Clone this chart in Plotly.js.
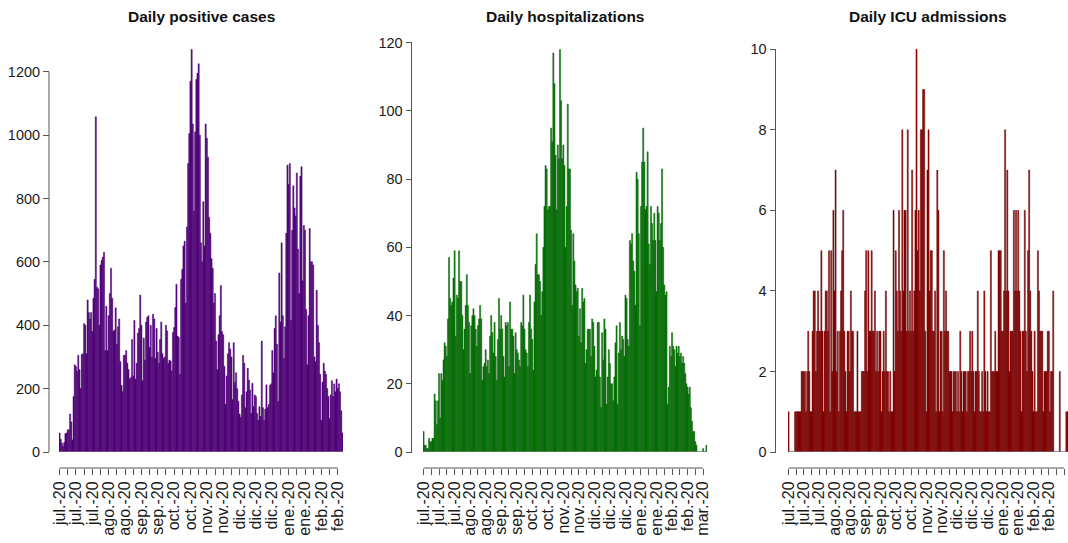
<!DOCTYPE html>
<html>
<head>
<meta charset="utf-8">
<script src="https://cdn.plot.ly/plotly-3.0.1.min.js"></script>
<style>
  html, body { margin: 0; padding: 0; background: #ffffff; }
  #chart { width: 1068px; height: 543px; }
</style>
</head>
<body>
<div id="chart"></div>
<script>
// ---------------- DATA ----------------
const startDate = [2020, 6, 1]; // 1 July 2020 (month is 0-based)

// Daily positive cases, 1 Jul 2020 .. 28 Feb 2021
const cases = [
  60, 40, 28, 18, 30, 58, 60, 70, 70, 120, 95, 38, 175, 275, 270, 255, 305, 260, 200, 308, 310, 405, 400, 310, 480, 440, 420, 440, 380, 485, 545,
  1058, 520, 515, 400, 590, 605, 615, 630, 320, 460, 320, 430, 500, 580, 485, 380, 385, 455, 340, 395, 420, 285, 210, 190, 305, 305, 320, 280, 260, 230, 235,
  355, 240, 415, 230, 280, 375, 390, 495, 400, 225, 360, 290, 410, 425, 430, 330, 400, 300, 435, 420, 295, 390, 315, 280, 355, 410, 310, 295, 300, 400,
  382, 280, 290, 287, 256, 377, 393, 456, 529, 366, 361, 245, 545, 577, 650, 665, 470, 710, 910, 1005, 1170, 1270, 1035, 760, 1010, 1175, 1195, 1225, 1000, 660, 600,
  790, 650, 1035, 990, 930, 740, 690, 610, 580, 470, 500, 350, 260, 370, 430, 525, 380, 370, 270, 150, 240, 310, 345, 325, 300, 165, 345, 220, 250, 200,
  160, 120, 110, 180, 305, 280, 140, 190, 264, 227, 196, 122, 217, 143, 180, 175, 122, 100, 143, 112, 350, 140, 100, 135, 212, 140, 150, 210, 215, 320, 250,
  390, 430, 340, 160, 565, 410, 660, 430, 295, 395, 690, 905, 845, 910, 415, 700, 840, 770, 745, 880, 640, 500, 870, 900, 540, 715, 700, 450, 275, 430, 705,
  600, 600, 590, 300, 285, 510, 400, 345, 245, 100, 220, 280, 255, 245, 200, 175, 105, 180, 225, 175, 215, 190, 230, 200, 215, 190, 130, 60
];

// Daily hospitalizations, 1 Jul 2020 .. 13 Mar 2021
const hosp = [
  6, 2, 2, 1, 1, 4, 3, 3, 4, 4, 17, 15, 8, 15, 23, 10, 23, 21, 27, 32, 31, 28, 39, 57, 45, 43, 44, 51, 59, 34, 46,
  45, 59, 50, 50, 40, 30, 36, 43, 52, 43, 38, 23, 37, 40, 42, 40, 36, 31, 37, 39, 43, 39, 21, 25, 26, 30, 25, 27, 23, 34, 40,
  35, 29, 38, 28, 21, 33, 45, 36, 40, 36, 28, 22, 38, 37, 38, 25, 44, 36, 36, 34, 23, 35, 30, 29, 27, 25, 38, 37, 46, 36,
  30, 29, 25, 38, 46, 36, 33, 24, 44, 55, 64, 52, 52, 50, 40, 47, 60, 72, 84, 83, 71, 72, 72, 95, 91, 117, 108, 87, 71, 90, 86,
  118, 103, 86, 90, 84, 60, 72, 102, 83, 83, 65, 43, 64, 56, 49, 47, 48, 34, 42, 32, 48, 44, 45, 26, 30, 36, 36, 36, 28, 39,
  38, 31, 22, 24, 38, 38, 22, 13, 35, 27, 39, 36, 14, 22, 30, 26, 20, 20, 15, 22, 32, 37, 14, 29, 38, 30, 34, 33, 28, 46, 45,
  33, 31, 62, 61, 64, 56, 53, 43, 82, 80, 64, 37, 72, 85, 95, 85, 71, 72, 88, 61, 55, 72, 67, 62, 70, 62, 47, 72, 70, 62, 67,
  83, 60, 49, 46, 47, 14, 19, 31, 28, 35, 31, 30, 25, 31, 29, 31, 28, 29, 26, 28, 26, 23, 20, 19, 17, 19, 13, 9,
  6, 6, 3, 2, 0, 0, 0, 0, 0, 1, 0, 0, 2
];

// Daily ICU admissions, 1 Jul 2020 .. 13 Mar 2021
const icu = [
  1, 0, 0, 0, 0, 0, 1, 1, 1, 1, 1, 1, 2, 2, 2, 2, 1, 2, 3, 2, 1, 1, 3, 4, 4, 2, 3, 4, 3, 3, 5,
  3, 1, 3, 4, 4, 3, 5, 1, 5, 2, 6, 4, 7, 2, 3, 1, 3, 4, 5, 6, 3, 2, 1, 3, 3, 2, 4, 3, 3, 1, 1,
  1, 3, 1, 1, 1, 2, 2, 2, 4, 5, 2, 5, 3, 3, 5, 3, 3, 4, 2, 3, 2, 3, 3, 1, 2, 3, 2, 4, 2, 2,
  1, 2, 1, 1, 6, 2, 5, 4, 3, 6, 4, 3, 8, 4, 6, 6, 3, 8, 3, 4, 3, 7, 3, 4, 6, 10, 5, 6, 4, 8, 8,
  9, 9, 3, 1, 7, 8, 4, 5, 5, 3, 3, 4, 1, 7, 6, 1, 3, 3, 1, 5, 3, 4, 3, 3, 2, 2, 2, 1, 2, 2,
  2, 1, 2, 1, 3, 2, 1, 2, 2, 2, 1, 2, 2, 3, 2, 3, 2, 1, 2, 2, 4, 2, 1, 1, 2, 1, 4, 2, 1, 2, 1,
  1, 5, 2, 2, 2, 3, 2, 2, 5, 5, 5, 3, 3, 4, 8, 4, 7, 4, 2, 3, 3, 3, 6, 4, 6, 4, 6, 4, 3, 1, 3,
  3, 6, 3, 2, 5, 7, 4, 3, 2, 1, 3, 1, 1, 5, 4, 3, 3, 3, 1, 2, 2, 2, 3, 3, 1, 2, 2, 4,
  0, 0, 0, 0, 0, 2, 0, 0, 0, 0, 0, 1, 1
];

// Weekly tick labels (every other tick labelled, as in the original)
const tickLabelsCases = ["jul.-20","","jul.-20","","jul.-20","","ago.-20","","ago.-20","","sep.-20","","sep.-20","",
  "oct.-20","","oct.-20","","nov.-20","","nov.-20","","dic.-20","","dic.-20","","dic.-20","","ene.-20","","ene.-20","",
  "feb.-20","","feb.-20"];
const tickLabelsLong = tickLabelsCases.concat(["", "mar.-20"]);

const yTicksCases = [0, 200, 400, 600, 800, 1000, 1200];
const yTicksHosp = [0, 20, 40, 60, 80, 100, 120];
const yTicksIcu = [0, 2, 4, 6, 8, 10];

const titles = ["Daily positive cases", "Daily hospitalizations", "Daily ICU admissions"];

// ---------------- HELPERS ----------------
function isoDay(offset) {
  const d = new Date(Date.UTC(startDate[0], startDate[1], startDate[2] + offset));
  return d.toISOString().slice(0, 10);
}
function dayList(n, step) {
  const out = [];
  for (let i = 0; i < n; i++) out.push(isoDay(i * step));
  return out;
}

const W = 1068, H = 543;
const px = v => v / W;
const py = v => 1 - v / H;

const FONT = "Liberation Sans, Arial, Helvetica, sans-serif";
const AX = "#555555";
const baseY = 452, topY = 40, xAxisY = 468;

const panels = [
  { data: cases, labels: tickLabelsCases, yTicks: yTicksCases, yMax: 1300, x0: 59, x1: 343, yAxisX: 49,
    fill: "#6a00a4", line: "#34004a" },
  { data: hosp, labels: tickLabelsLong, yTicks: yTicksHosp, yMax: 120.8, x0: 423, x1: 707, yAxisX: 411.5,
    fill: "#009a00", line: "#064006" },
  { data: icu, labels: tickLabelsLong, yTicks: yTicksIcu, yMax: 10.23, x0: 788, x1: 1068, yAxisX: 775.5,
    fill: "#b80000", line: "#480000" }
];

const traces = [];
const layout = {
  width: W, height: H,
  margin: { l: 0, r: 0, t: 0, b: 0 },
  paper_bgcolor: "#ffffff", plot_bgcolor: "#ffffff",
  showlegend: false, bargap: 0,
  font: { family: FONT, size: 14, color: "#1a1a1a" },
  shapes: [], annotations: []
};

panels.forEach((p, i) => {
  const n = p.data.length;
  const xs = dayList(n, 1);
  const tickvals = dayList(p.labels.length, 7);
  const xn = i === 0 ? "" : String(i + 1);
  const xKey = "xaxis" + xn, yKey = "yaxis" + xn;
  const xRef = "x" + xn, yRef = "y" + xn;

  traces.push({
    type: "bar", x: xs, y: p.data, xaxis: xRef, yaxis: yRef,
    marker: { color: p.fill, line: { color: p.line, width: 0.45 } },
    hoverinfo: "skip"
  });

  const rangeEndDate = new Date(Date.UTC(startDate[0], startDate[1], startDate[2] + n - 1));
  const r0 = new Date(Date.UTC(startDate[0], startDate[1], startDate[2])).getTime() - 12 * 3600 * 1000;
  const r1 = rangeEndDate.getTime() + 12 * 3600 * 1000;

  layout[xKey] = {
    type: "date", domain: [px(p.x0), px(p.x1)],
    range: [r0, r1], anchor: "free", position: py(xAxisY),
    tickmode: "array", tickvals: tickvals, ticktext: p.labels, tickangle: -90,
    ticks: "outside", ticklen: 6, tickwidth: 1, tickcolor: AX,
    showline: false, showgrid: false, zeroline: false,
    tickfont: { family: FONT, size: 16, color: "#1a1a1a" }, fixedrange: true
  };
  layout[yKey] = {
    domain: [py(baseY), py(topY)], range: [0, p.yMax],
    anchor: "free", position: px(p.yAxisX),
    tickmode: "array", tickvals: p.yTicks, ticktext: p.yTicks.map(String),
    ticks: "outside", ticklen: 6, tickwidth: 1, tickcolor: AX,
    showline: false, showgrid: false, zeroline: false,
    tickfont: { family: FONT, size: 14.5, color: "#1a1a1a" }, fixedrange: true
  };

  // y axis line (R style: from first to last tick)
  layout.shapes.push({ type: "line", xref: "paper", yref: yRef,
    x0: px(p.yAxisX), x1: px(p.yAxisX), y0: p.yTicks[0], y1: p.yTicks[p.yTicks.length - 1],
    line: { color: AX, width: 1 } });
  // x axis line from first to last tick
  layout.shapes.push({ type: "line", xref: xRef, yref: "paper",
    x0: tickvals[0], x1: tickvals[tickvals.length - 1], y0: py(xAxisY), y1: py(xAxisY),
    line: { color: AX, width: 1 } });
  // bar baseline
  layout.shapes.push({ type: "line", xref: xRef, yref: yRef,
    x0: r0, x1: r1, y0: 0, y1: 0, line: { color: "#8a8a8a", width: 1 } });

  // panel title
  layout.annotations.push({ text: "<b>" + titles[i] + "</b>", xref: "paper", yref: "paper",
    x: px((p.x0 + p.x1) / 2), y: py(16), xanchor: "center", yanchor: "middle",
    showarrow: false, font: { family: FONT, size: 15.5, color: "#111111" } });
});

Plotly.newPlot("chart", traces, layout, { displayModeBar: false, staticPlot: true });
</script>
</body>
</html>
